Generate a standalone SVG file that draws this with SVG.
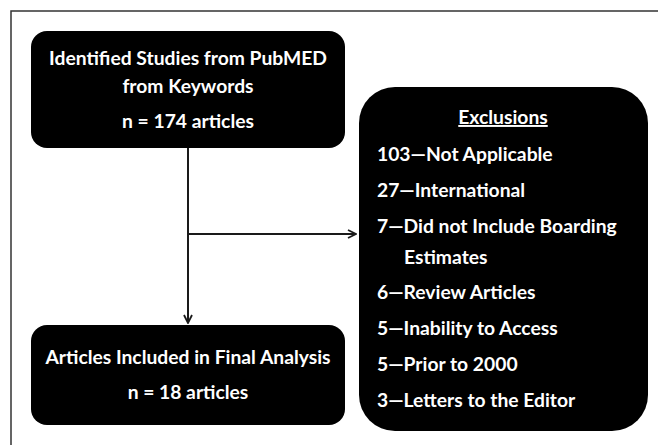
<svg xmlns="http://www.w3.org/2000/svg" width="658" height="445" viewBox="0 0 658 445">
<defs>
<style>
.box{fill:#000;}
.t{font-family:Lato,"Open Sans",sans-serif;font-weight:bold;font-size:19.3px;fill:#fff;}
.c{text-anchor:middle;}
.conn{stroke:#1a1a1a;stroke-width:2;fill:none;}
</style>
<marker id="arr" viewBox="0 0 10 10" refX="9" refY="5" markerWidth="10" markerHeight="10" markerUnits="userSpaceOnUse" orient="auto">
<path d="M1,1 L9,5 L1,9" fill="none" stroke="#1a1a1a" stroke-width="1.8"/>
</marker>
</defs>
<rect width="658" height="445" fill="#fff"/>
<path d="M11,445 L11,11 L658,11" fill="none" stroke="#333" stroke-width="1.5"/>
<g id="connectors">
<line class="conn" x1="188" y1="148" x2="188" y2="323" marker-end="url(#arr)"/>
<line class="conn" x1="188" y1="234" x2="356" y2="234" marker-end="url(#arr)"/>
</g>
<g id="identified">
<rect class="box" x="31" y="31" width="314" height="117" rx="16"/>
<text class="t c" x="188" y="65">Identified Studies from PubMED</text>
<text class="t c" x="188" y="93">from Keywords</text>
<text class="t c" x="188" y="128">n = 174 articles</text>
</g>
<g id="included">
<rect class="box" x="31" y="325" width="314" height="100" rx="16"/>
<text class="t c" x="188" y="364">Articles Included in Final Analysis</text>
<text class="t c" x="188" y="399">n = 18 articles</text>
</g>
<g id="exclusions">
<rect class="box" x="359" y="87" width="289" height="344" rx="36"/>
<text class="t c" x="503" y="124" text-decoration="underline">Exclusions</text>
<text class="t" x="377" y="161">103—Not Applicable</text>
<text class="t" x="377" y="197">27—International</text>
<text class="t" x="377" y="233">7—Did not Include Boarding</text>
<text class="t" x="404" y="264">Estimates</text>
<text class="t" x="377" y="299">6—Review Articles</text>
<text class="t" x="377" y="335">5—Inability to Access</text>
<text class="t" x="377" y="371">5—Prior to 2000</text>
<text class="t" x="377" y="407">3—Letters to the Editor</text>
</g>
</svg>
